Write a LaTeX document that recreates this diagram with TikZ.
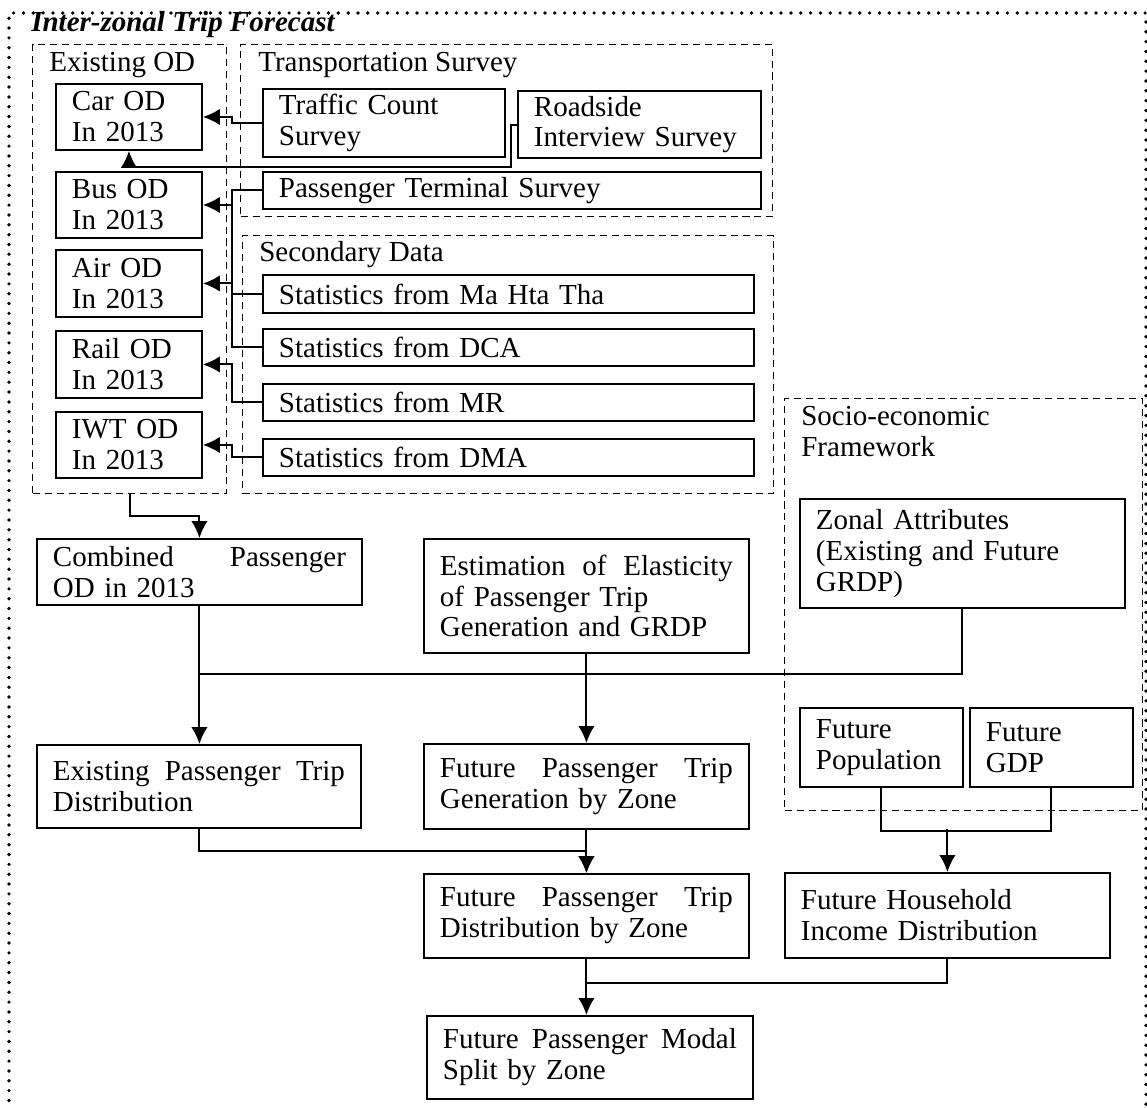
\documentclass[tikz,border=0pt]{standalone}
\usepackage{fontspec}
\setmainfont{Liberation Serif}
\usetikzlibrary{arrows.meta,calc}

\newcommand{\esticar}[2]{\makebox[#1][l]{#2}}

\begin{document}
\begin{tikzpicture}[x=0.02cm, y=-0.02cm,
    font=\fontsize{16.5}{17.6}\selectfont,
    caixa/.style={draw, line width=1.1pt, anchor=north west, align=left,
        inner xsep=0.32cm, inner ysep=0.1cm},
    grupo/.style={draw, dash pattern=on 4pt off 2.8pt, line width=0.8pt,
        anchor=north west, inner sep=0pt},
    rotulo/.style={anchor=base west, inner sep=0pt},
    seta/.style={-{Latex[length=0.34cm, width=0.33cm]}, line width=1.1pt, draw},
    linha/.style={line width=1.1pt, draw}]

    \useasboundingbox (0,0) rectangle (1147,1108);
    \clip (0,0) rectangle (1147,1108);

    % Moldura pontilhada
    \path[draw, line width=2.1pt, line cap=round, dash pattern=on 0pt off 5.6pt]
        (9,1130) -- (9,13) -- (1146,13) -- (1146,1130);
    \node[rotulo, font=\fontsize{16.5}{17.6}\selectfont\bfseries\itshape] (titulo) at (31,32) {Inter-zonal Trip Forecast};

    % Grupos tracejados
    \node[grupo, minimum width=3.88cm, minimum height=8.98cm] (existente) at (32,44) {};
    \node[grupo, minimum width=10.64cm, minimum height=3.44cm] (transporte) at (240,44) {};
    \node[grupo, minimum width=10.62cm, minimum height=5.16cm] (secundario) at (242,235) {};
    \node[grupo, minimum width=7.16cm, minimum height=8.24cm] (socio) at (784,398) {};

    \node[rotulo] (rotexistente) at (49,72) {Existing OD};
    \node[rotulo] (rottransporte) at (258,72) {Transportation Survey};
    \node[rotulo] (rotsecundario) at (259,262) {Secondary Data};
    \node[anchor=north west, inner sep=0pt, align=left] (rotsocio) at (801,406) {Socio-economic\\Framework};

    % OD existentes
    \node[caixa, text width=2.28cm, minimum height=1.32cm] (carod) at (55,83) {Car OD\\In 2013};
    \node[caixa, text width=2.28cm, minimum height=1.32cm] (busod) at (55,171) {Bus OD\\In 2013};
    \node[caixa, text width=2.28cm, minimum height=1.34cm] (airod) at (55,249) {Air OD\\In 2013};
    \node[caixa, text width=2.28cm, minimum height=1.34cm] (railod) at (55,330) {Rail OD\\In 2013};
    \node[caixa, text width=2.28cm, minimum height=1.32cm] (iwtod) at (55,411) {IWT OD\\In 2013};

    % Pesquisas e dados secundarios
    \node[caixa, text width=4.2cm, minimum height=1.34cm] (trafego) at (262,88) {Traffic Count\\Survey};
    \node[caixa, text width=4.22cm, minimum height=1.32cm] (roadside) at (517,90) {Roadside\\Interview Survey};
    \node[caixa, text width=9.32cm, minimum height=0.74cm] (terminal) at (262,171) {Passenger Terminal Survey};
    \node[caixa, text width=9.18cm, minimum height=0.76cm] (mahtatha) at (262,274) {Statistics from Ma Hta Tha};
    \node[caixa, text width=9.18cm, minimum height=0.74cm] (dca) at (262,328) {Statistics from DCA};
    \node[caixa, text width=9.18cm, minimum height=0.74cm] (mr) at (262,383) {Statistics from MR};
    \node[caixa, text width=9.18cm, minimum height=0.74cm] (dma) at (262,438) {Statistics from DMA};

    % Etapas da previsao
    \node[caixa, text width=5.86cm, minimum height=1.32cm] (combinado) at (36,538) {\esticar{5.86cm}{Combined\hfill Passenger}\\OD in 2013};
    \node[caixa, text width=5.86cm, minimum height=2.28cm] (elasticidade) at (423,538) {\esticar{5.86cm}{Estimation\hfill of\hfill Elasticity}\\of Passenger Trip\\Generation and GRDP};
    \node[caixa, text width=5.86cm, minimum height=2.18cm] (zonal) at (799,498) {Zonal Attributes\\(Existing and Future\\GRDP)};
    \node[caixa, text width=5.84cm, minimum height=1.66cm] (existdist) at (36,744) {\esticar{5.84cm}{Existing\hfill Passenger\hfill Trip}\\Distribution};
    \node[caixa, text width=5.86cm, minimum height=1.7cm] (futgen) at (423,743) {\esticar{5.86cm}{Future\hfill Passenger\hfill Trip}\\Generation by Zone};
    \node[caixa, text width=2.62cm, minimum height=1.58cm] (futpop) at (799,707) {Future\\Population};
    \node[caixa, text width=2.62cm, minimum height=1.58cm] (futgdp) at (969,707) {Future\\GDP};
    \node[caixa, text width=5.86cm, minimum height=1.68cm] (futdist) at (423,873) {\esticar{5.86cm}{Future\hfill Passenger\hfill Trip}\\Distribution by Zone};
    \node[caixa, text width=5.86cm, minimum height=1.7cm] (renda) at (784,872) {Future Household\\Income Distribution};
    \node[caixa, text width=5.88cm, minimum height=1.66cm] (modal) at (426,1015) {\esticar{5.88cm}{Future\hfill Passenger\hfill Modal}\\Split by Zone};

    \coordinate (barra) at (232,0);
    \coordinate (nivel) at (0,674);

    % Setas para as OD existentes
    \path[seta] (trafego.west) -| (barra |- carod.east) -- (carod.east);
    \path[seta] (roadside.west) -- ++(-6,0) -- ++(0,42) -| (carod.south);
    \path[linha] (terminal.west) -| (barra |- dca.west) -- (dca.west);
    \path[linha] (mahtatha.west) -- (barra |- mahtatha.west);
    \path[seta] (barra |- busod.east) -- (busod.east);
    \path[seta] (barra |- airod.east) -- (airod.east);
    \path[seta] (mr.west) -| (barra |- railod.east) -- (railod.east);
    \path[seta] (dma.west) -| (barra |- iwtod.east) -- (iwtod.east);

    % Setas da previsao
    \path[seta] (existente.south) -- ++(0,22) -| (combinado.north);
    \path[linha] (zonal.south) |- (combinado.south |- nivel);
    \path[seta] (combinado.south) -- (combinado.south |- existdist.north);
    \path[seta] (elasticidade.south) -- (futgen.north);
    \path[seta] (existdist.south) -- ++(0,22) -| (futdist.north);
    \path[seta] (futgen.south) -- (futdist.north);
    \path[linha] (futpop.south) -- ++(0,43) -| (futgdp.south);
    \path[seta] ($(renda.north)+(0,-43)$) -- (renda.north);
    \path[linha] (renda.south) -- ++(0,24) -| (futdist.south);
    \path[seta] (futdist.south) -- (futdist.south |- modal.north);

\end{tikzpicture}
\end{document}
